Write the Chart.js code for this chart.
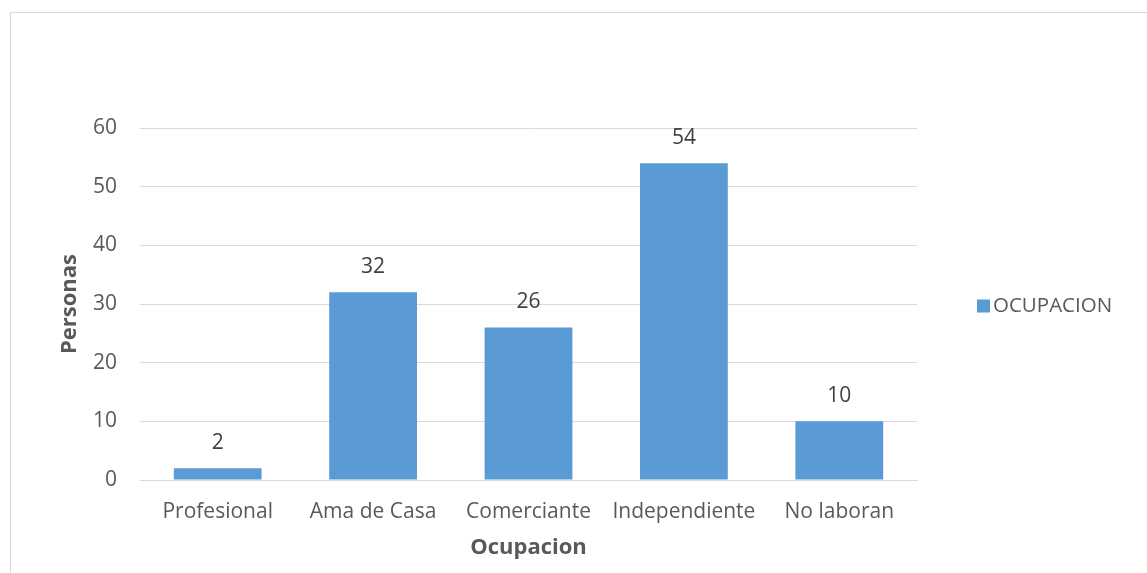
<!DOCTYPE html>
<html>
<head>
<meta charset="utf-8">
<script src="https://cdn.jsdelivr.net/npm/chart.js@4"></script>
<style>
  html, body { margin: 0; padding: 0; background: #ffffff; }
  #frame { position: absolute; left: 10px; top: 12px; width: 1137px; height: 561px;
           border-left: 1px solid #d9d9d9; border-top: 1px solid #d9d9d9; box-sizing: border-box; }
  #wrap { position: absolute; left: 0; top: 0; width: 1147px; height: 573px; }
</style>
</head>
<body>
<div id="frame"></div>
<div id="wrap"><canvas id="c" width="1147" height="573"></canvas></div>
<script>
const categories = ["Profesional", "Ama de Casa", "Comerciante", "Independiente", "No laboran"];
const seriesName = "OCUPACION";
const values = [2, 32, 26, 54, 10];
const yTicks = [0, 10, 20, 30, 40, 50, 60];
const yTitle = "Personas";
const xTitle = "Ocupacion";

const FONT = "'Open Sans', 'DejaVu Sans', sans-serif";
const BAR = "#5B9BD5";

const valueLabels = {
  id: "valueLabels",
  afterDatasetsDraw(chart) {
    const ctx = chart.ctx;
    const meta = chart.getDatasetMeta(0);
    ctx.save();
    ctx.font = "21px " + FONT;
    ctx.fillStyle = "#404040";
    ctx.textAlign = "center";
    ctx.textBaseline = "middle";
    meta.data.forEach((bar, i) => {
      ctx.fillText(String(chart.data.datasets[0].data[i]), bar.x, bar.y - 25);
    });
    ctx.restore();
  }
};

const sideLegend = {
  id: "sideLegend",
  afterDraw(chart) {
    const ctx = chart.ctx;
    const ds = chart.data.datasets[0];
    const cy = (chart.chartArea.top + chart.chartArea.bottom) / 2 + 2;
    const x0 = chart.chartArea.right + 60;
    ctx.save();
    ctx.fillStyle = ds.backgroundColor;
    ctx.fillRect(x0, cy - 6.5, 13, 13);
    ctx.font = "20.5px " + FONT;
    ctx.fillStyle = "#595959";
    ctx.textAlign = "left";
    ctx.textBaseline = "middle";
    ctx.fillText(ds.label, x0 + 16, cy);
    ctx.restore();
  }
};

new Chart(document.getElementById("c"), {
  type: "bar",
  data: {
    labels: categories,
    datasets: [{
      label: seriesName,
      data: values,
      backgroundColor: BAR,
      borderWidth: 0,
      barPercentage: 0.565,
      categoryPercentage: 1.0
    }]
  },
  options: {
    responsive: false,
    animation: false,
    layout: { padding: { top: 128, right: 230, bottom: 0, left: 0 } },
    plugins: {
      legend: { display: false },
      tooltip: { enabled: false }
    },
    scales: {
      x: {
        grid: { display: false, drawTicks: false },
        border: { display: true, color: "#d9d9d9", width: 1 },
        ticks: { color: "#595959", font: { family: FONT, size: 21 }, padding: 19, maxRotation: 0 },
        title: { display: true, text: xTitle, color: "#595959",
                 font: { family: FONT, size: 22, weight: "bold" }, padding: { top: 0, bottom: 12 } },
        afterFit(scale) { scale.height = 93; }
      },
      y: {
        min: 0, max: 60,
        afterBuildTicks(scale) { scale.ticks = yTicks.map(v => ({ value: v })); },
        grid: { color: "#d9d9d9", lineWidth: 1, drawTicks: false },
        border: { display: false },
        ticks: { color: "#595959", font: { family: FONT, size: 21 }, padding: 23 },
        title: { display: true, text: yTitle, color: "#595959",
                 font: { family: FONT, size: 22, weight: "bold" }, padding: { top: 57, bottom: 0 } },
        afterFit(scale) { scale.width = 140; }
      }
    }
  },
  plugins: [valueLabels, sideLegend]
});
</script>
</body>
</html>
